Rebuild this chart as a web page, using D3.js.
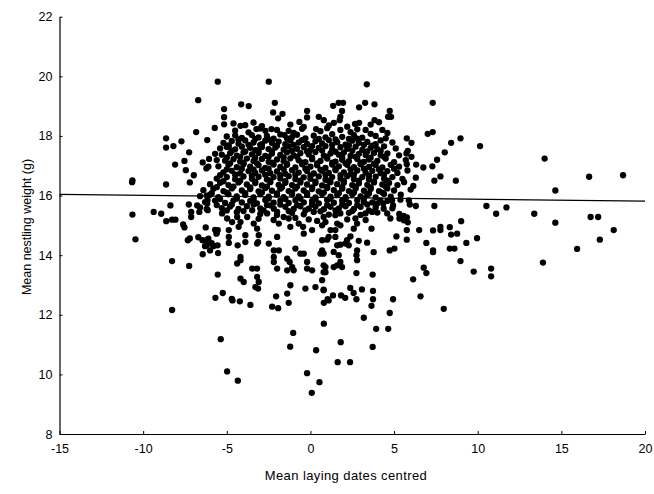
<!DOCTYPE html>
<html>
<head>
<meta charset="utf-8">
<script src="https://cdn.jsdelivr.net/npm/d3@7"></script>
<style>
  body { margin: 0; background: #fff; }
  svg text { font-family: Arial, "Liberation Sans", sans-serif; fill: #000; }
</style>
</head>
<body>
<div id="chart"></div>
<script>
// x = mean laying date (centred), y = mean nestling weight (g)
var xTicks = [-15, -10, -5, 0, 5, 10, 15, 20];
var yTicks = [8, 10, 12, 14, 16, 18, 20, 22];
var fitX = [-15, 20];
var fitY = [16.04, 15.81];

var outerPoints = [
  [-5.54,19.82],[-2.49,19.82],[-6.71,19.2],[-4.14,19.06],[-3.69,19.0],[-2.13,19.11],[-5.16,18.9],[-2.23,18.79],
  [-1.67,18.74],[-1.93,18.59],[-5.16,18.63],[-5.16,18.39],[-5.72,18.27],[-6.83,18.13],[-8.63,17.92],[-8.63,17.61],
  [-8.19,17.66],[-7.71,17.82],[-6.17,17.86],[-7.25,17.45],[-7.53,17.16],[-8.09,17.04],[-7.45,16.85],[-6.97,16.68],
  [-7.21,16.44],[-8.63,16.37],[-6.44,17.11],[-6.06,17.23],[-5.7,17.4],[-5.6,17.19],[-6.22,16.91],[-6.1,16.97],
  [-4.88,17.66],[-4.18,18.34],[-3.23,18.23],[-2.69,18.17],[-2.33,18.23],[-0.66,18.47],[-0.2,18.84],[-0.2,18.62],
  [0.5,18.64],[0.8,18.53],[0.34,18.23],[-0.4,18.3],[-1.3,18.17],[-1.55,18.03],
  [3.37,19.73],[1.36,19.01],[1.69,19.11],[1.95,19.11],[1.89,18.84],[1.79,18.64],[1.75,18.53],[2.91,18.96],
  [3.27,19.11],[3.83,19.06],[4.74,18.84],[4.64,18.64],[4.82,18.64],[3.83,18.53],[7.31,19.11],[2.67,18.4],
  [2.91,18.44],[1.79,18.2],[3.3,18.2],[7.01,18.07],[7.31,18.13],[5.76,17.92],[6.04,17.77],[8.41,17.77],
  [8.97,17.92],[10.14,17.66],[8.03,17.45],[7.57,17.2],[7.29,16.98],[6.75,16.94],[6.32,17.04],[5.82,17.5],
  [5.74,17.41],[5.3,17.35],[5.7,17.19],[6.04,17.3],[5.76,17.05],[7.41,16.5],[7.77,16.64],[8.69,16.5],
  [5.99,16.2],[6.15,16.32],[5.6,16.45],[6.3,16.6],
  [-10.64,16.51],[-10.66,16.45],[-10.64,15.36],[-10.46,14.53],
  [14.0,17.24],[16.66,16.63],[18.69,16.68],[14.64,16.17],[11.72,15.6],[13.38,15.39],[14.64,15.09],[16.75,15.28],
  [17.2,15.28],[18.13,14.84],[17.3,14.52],[15.94,14.21],[13.9,13.75],[10.52,15.65],[11.1,15.39],
  [7.41,15.65],[9.01,15.14],[8.33,14.94],[7.77,14.95],[7.77,14.84],[8.41,14.69],[8.77,14.72],[7.33,14.83],
  [6.5,14.84],[5.76,14.84],[5.76,14.52],[5.14,14.63],[9.32,14.41],[9.96,14.57],[6.93,14.41],[7.33,14.16],
  [7.33,14.1],[8.33,14.22],[8.61,14.22],[8.97,13.8],[5.02,14.22],[4.74,14.16],[5.31,15.38],[5.77,15.27],
  [5.57,15.32],[5.94,15.7],[6.3,15.65],[3.65,14.89],[3.78,14.1],[3.39,14.42],[6.77,13.58],[6.93,13.4],
  [9.76,13.45],[10.8,13.55],[10.8,13.29],[6.14,13.19],[3.72,13.35],[2.75,13.4],[4.94,12.52],[6.58,12.62],
  [7.97,12.2],[3.74,12.8],[3.74,12.52],[2.75,12.52],[3.08,12.85],[2.38,12.9],[2.58,12.73],[2.08,12.57],
  [1.83,12.65],[1.35,12.65],[1.03,12.52],
  [4.74,12.06],[3.19,11.9],[3.93,11.53],[4.65,11.53],[0.8,11.7],[1.81,11.08],[3.72,10.92],[1.63,10.41],
  [2.37,10.41],[3.65,12.3],[-8.27,12.16],[-5.36,11.18],[-4.98,10.1],[-4.34,9.79],[-1.03,11.39],[-1.21,10.93],
  [0.34,10.81],[-0.2,10.04],[0.54,9.74],[0.08,9.38],[0.8,12.4],[-3.59,12.33],[-2.29,12.27],[-1.93,12.22],
  [-1.3,12.4],[-4.66,12.48],[-4.22,12.45]
];

var leftPoints = [
  [-9.37,15.45],[-8.92,15.39],[-8.62,15.14],[-8.37,15.67],[-8.27,15.19],[-8.07,15.19],[-7.61,15.03],[-7.53,14.93],
  [-7.27,15.7],[-6.77,15.67],[-7.13,15.45],[-6.64,15.45],[-7.13,15.28],[-7.33,14.5],[-7.21,14.56],[-6.26,14.93],
  [-8.27,13.8],[-7.25,13.64],[-5.54,13.35],[-5.68,12.57],[-5.24,12.73],[-4.7,12.53],[-6.44,14.03],[-5.52,14.07],
  [-5.7,14.85],[-5.6,14.75],[-6.7,14.6],[-6.1,14.55],[-5.9,14.4],[-6.3,14.3],[-5.8,14.3],[-6.6,15.6],
  [-6.2,15.55],[-6.2,16.0],[-6.15,15.85]
];

var lowerCore = [
  [-6.17,15.73],[-6.14,15.51],[-5.28,15.40],[-4.98,15.23],[-4.68,15.11],[-4.38,15.28],[-4.18,15.11],[-4.29,14.95],
  [-3.78,15.28],[-3.48,15.51],[-3.39,15.06],[-3.19,14.89],[-3.09,14.67],[-3.13,14.44],[-3.19,14.39],[-3.89,14.67],
  [-3.89,14.44],[-4.35,14.33],[-4.88,14.84],[-4.88,14.61],[-4.88,14.41],[-5.54,14.84],[-5.62,14.72],[-6.2,14.5],
  [-6.45,14.5],[-6.2,14.33],[-5.55,14.33],[-6.0,14.16],[-4.18,13.94],[-4.38,13.72],[-4.18,13.83],
  [-3.48,13.55],[-3.19,13.55],[-4.18,13.21],[-3.99,13.10],[-3.19,13.27],[-3.09,13.10],[-3.29,12.93],[-3.13,12.88],
  [-2.59,15.40],[-2.39,15.67],[-2.19,15.56],[-1.99,15.45],[-1.89,15.06],[-1.60,15.28],[-1.30,15.23],[-1.20,14.95],
  [-1.99,14.61],[-2.49,14.39],[-2.19,14.16],[-2.19,13.94],[-2.19,13.77],[-1.89,14.16],[-1.39,13.88],[-1.24,13.77],
  [-1.09,13.60],[-1.39,13.49],[-1.00,13.49],[-1.99,13.55],[-1.20,12.99],[-1.39,12.71],[-2.05,12.62],[-0.90,14.22],
  [-0.60,14.05],[-0.40,14.05],[-0.30,12.88],[-0.20,13.77],[-0.20,13.55],[0.10,13.49],[0.30,12.93],[0.79,13.66],
  [0.90,13.43],[0.70,13.16],[0.79,12.82],[0.70,14.11],[0.60,14.05],[0.70,14.50],[0.10,14.84],[-0.40,14.72],
  [-0.44,14.95],[-0.70,15.06],[1.09,14.61],[1.20,14.84],[1.09,12.48],
  [1.79,15.40],[1.49,15.34],[0.79,15.28],[0.90,15.11],[0.70,15.00],[1.60,15.06],[1.79,15.00],[2.69,15.23],
  [2.79,15.06],[2.59,14.89],[1.49,14.84],[1.49,14.61],[2.39,14.63],[2.19,14.50],[1.00,14.52],[2.89,14.48],
  [1.60,14.33],[1.79,14.35],[2.09,14.39],[2.29,14.33],[2.79,14.16],[2.75,14.00],[2.79,13.83],[0.70,14.16],
  [0.79,14.05],[1.39,14.11],[1.69,14.00],[1.79,13.77],[1.60,13.66],[1.89,13.60],[1.39,13.60],[0.90,13.60],
  [0.79,13.43],[0.79,12.84],
  [4.35,15.73],[4.38,15.56],[4.59,15.40],[4.78,15.23],[3.19,15.78],[3.29,15.40],[3.69,15.45],[4.0,15.73],
  [4.18,15.84],[5.38,15.86],[5.88,15.84],[4.88,15.84],[4.94,15.67],[5.32,15.23],[5.58,15.17],[5.82,15.1]
];

var upperCore = [
  [-4.6,18.42],[-3.9,18.36],[-3.4,18.45],[-2.9,18.33],[-1.2,18.38],[1.1,18.35],[1.4,18.44],[2.2,18.31],[3.6,18.38],[4.1,18.46],
  [-4.5,18.18],[-3.7,18.12],[-3.0,18.25],[-2.0,18.2],[-1.0,18.1],[-0.5,18.24],[0.6,18.16],[1.0,18.26],[2.4,18.13],[2.8,18.22],[3.6,18.07],[4.3,18.2],[4.6,18.1],
  [-5.0,17.98],[-4.5,18.02],[-4.1,17.93],[-3.5,18.03],[-3.1,17.95],[-2.6,18.0],[-2.2,17.91],[-1.8,18.05],[-1.1,17.96],[-0.8,18.04],
  [-0.3,17.92],[0.2,18.01],[0.9,17.95],[1.3,18.06],[1.9,17.97],[2.3,17.9],[2.6,18.03],[3.1,17.94],[3.9,18.0],[4.5,17.92],
  [-5.2,17.77],[-4.7,17.83],[-4.3,17.74],[-3.9,17.85],[-3.4,17.78],[-3.0,17.7],[-2.7,17.84],[-2.3,17.76],[-1.9,17.81],[-1.5,17.72],
  [-1.2,17.85],[-0.7,17.78],[-0.2,17.73],[0.3,17.82],[0.7,17.75],[1.1,17.86],[1.6,17.79],[2.1,17.71],[2.5,17.84],[2.9,17.77],
  [3.4,17.8],[3.9,17.72],[4.2,17.85],[4.9,17.78],
  [-5.4,17.58],[-5.0,17.63],[-4.5,17.55],[-4.1,17.64],[-3.6,17.6],[-3.3,17.52],[-2.9,17.63],[-2.5,17.56],[-2.1,17.61],[-1.6,17.54],
  [-1.3,17.65],[-0.8,17.57],[-0.4,17.62],[0.0,17.53],[0.5,17.6],[0.9,17.66],[1.3,17.55],[1.8,17.62],[2.2,17.57],[2.7,17.64],
  [3.1,17.53],[3.6,17.6],[4.0,17.56],[4.4,17.65],[5.1,17.58],
  [-5.3,17.37],[-4.8,17.42],[-4.4,17.34],[-4.0,17.45],[-3.5,17.38],[-3.1,17.43],[-2.7,17.33],[-2.3,17.41],[-1.8,17.36],[-1.4,17.45],
  [-1.0,17.35],[-0.6,17.42],[-0.1,17.38],[0.3,17.46],[0.8,17.34],[1.2,17.41],[1.7,17.37],[2.0,17.44],[2.4,17.33],[2.9,17.4],
  [3.3,17.36],[3.8,17.43],[4.2,17.35],[4.6,17.41],
  [-5.1,17.17],[-4.6,17.22],[-4.2,17.14],[-3.8,17.24],[-3.4,17.16],[-2.9,17.23],[-2.5,17.13],[-2.0,17.21],[-1.6,17.15],[-1.2,17.25],
  [-0.7,17.18],[-0.3,17.12],[0.1,17.22],[0.6,17.16],[1.0,17.24],[1.5,17.14],[1.9,17.2],[2.3,17.15],[2.8,17.23],[3.2,17.13],
  [3.5,17.21],[4.0,17.16],[4.5,17.24],[5.0,17.12],
  [-5.5,16.98],[-4.9,17.03],[-4.4,16.95],[-4.0,17.05],[-3.6,16.97],[-3.1,17.02],[-2.7,16.93],[-2.2,17.04],[-1.8,16.96],[-1.4,17.03],
  [-0.9,16.94],[-0.5,17.05],[0.0,16.97],[0.4,17.02],[0.9,16.93],[1.3,17.04],[1.7,16.98],[2.2,17.03],[2.6,16.95],[3.0,17.05],
  [3.5,16.96],[3.9,17.02],[4.3,16.94],[4.8,17.03],[5.3,16.97],
  [-5.2,16.78],[-4.7,16.83],[-4.2,16.74],[-3.7,16.82],[-3.3,16.76],[-2.9,16.84],[-2.4,16.75],[-2.0,16.81],[-1.5,16.73],[-1.1,16.85],
  [-0.7,16.77],[-0.2,16.82],[0.2,16.74],[0.7,16.83],[1.1,16.76],[1.5,16.85],[2.0,16.78],[2.4,16.72],[2.8,16.84],[3.3,16.77],
  [3.7,16.83],[4.2,16.75],[4.6,16.82],[5.2,16.76],[5.8,16.84],
  [-5.6,16.57],[-5.0,16.62],[-4.5,16.55],[-4.0,16.64],[-3.5,16.56],[-3.1,16.63],[-2.6,16.54],[-2.2,16.62],[-1.8,16.57],[-1.3,16.65],
  [-0.9,16.55],[-0.4,16.61],[0.0,16.56],[0.5,16.64],[0.9,16.53],[1.3,16.62],[1.8,16.57],[2.2,16.65],[2.6,16.55],[3.1,16.62],
  [3.5,16.54],[3.9,16.63],[4.4,16.57],[4.9,16.62],[5.5,16.56],
  [-6.0,16.38],[-5.4,16.43],[-4.9,16.35],[-4.3,16.44],[-3.8,16.37],[-3.3,16.42],[-2.9,16.34],[-2.4,16.45],[-1.9,16.36],[-1.5,16.43],
  [-1.1,16.35],[-0.6,16.44],[-0.2,16.37],[0.3,16.42],[0.7,16.34],[1.2,16.45],[1.6,16.38],[2.0,16.43],[2.5,16.35],[2.9,16.41],
  [3.4,16.36],[3.8,16.44],[4.3,16.37],[4.7,16.42],[5.2,16.35],
  [-6.4,16.18],[-5.8,16.23],[-5.2,16.15],[-4.7,16.24],[-4.1,16.17],[-3.6,16.22],[-3.1,16.14],[-2.7,16.25],[-2.3,16.16],[-1.8,16.23],
  [-1.3,16.15],[-0.9,16.24],[-0.4,16.17],[0.1,16.22],[0.5,16.14],[1.0,16.25],[1.4,16.18],[1.9,16.23],[2.3,16.15],[2.7,16.24],
  [3.2,16.16],[3.6,16.22],[4.1,16.15],[4.6,16.24],[5.0,16.17],
  [-6.6,15.98],[-6.0,16.03],[-5.5,15.95],[-4.9,16.04],[-4.4,15.97],[-3.9,16.02],[-3.4,15.94],[-3.0,16.05],[-2.5,15.96],[-2.0,16.03],
  [-1.6,15.95],[-1.1,16.04],[-0.7,15.97],[-0.2,16.02],[0.3,15.94],[0.7,16.05],[1.2,15.96],[1.6,16.03],[2.1,15.95],[2.5,16.04],
  [3.0,15.97],[3.4,16.02],[3.9,15.94],[4.4,16.05],[4.8,15.96],[5.4,16.03],
  [-6.3,15.78],[-5.7,15.83],[-5.1,15.75],[-4.6,15.84],[-4.1,15.77],[-3.6,15.82],[-3.2,15.74],[-2.7,15.85],[-2.2,15.76],[-1.8,15.83],
  [-1.3,15.75],[-0.9,15.84],[-0.4,15.77],[0.1,15.82],[0.5,15.74],[1.0,15.85],[1.4,15.76],[1.9,15.83],[2.3,15.75],[2.8,15.84],
  [3.7,15.77],[4.6,15.82],
  [-5.3,15.58],[-4.8,15.63],[-4.3,15.55],[-3.8,15.64],[-3.0,15.57],[-1.5,15.62],[-1.0,15.55],[-0.6,15.64],[-0.1,15.56],[0.3,15.63],
  [0.8,15.54],[1.2,15.62],[1.7,15.57],[2.1,15.64],[2.6,15.55],[3.0,15.62],[3.9,15.6],[4.9,15.57],
  [-4.4,15.44],[-3.0,15.38],[-2.0,15.35],[-1.1,15.42],[-0.4,15.37],[0.2,15.45],[1.1,15.36],[2.3,15.42],[3.0,15.35],[4.0,15.43]
];

// extra points filling the gaps of the densest part of the cloud
var denseCore = [
  [-4.3,17.88],[-3.3,17.9],[-2.4,17.87],[-1.4,17.92],[-0.5,17.86],[0.5,17.9],[1.5,17.88],[2.8,17.91],
  [-4.9,17.68],[-3.7,17.7],[-2.9,17.72],[-2.0,17.67],[-1.0,17.7],[0.1,17.66],[1.3,17.7],[2.3,17.68],[3.2,17.7],[3.7,17.67],
  [-4.7,17.5],[-3.9,17.48],[-3.1,17.52],[-2.3,17.48],[-1.1,17.5],[-0.2,17.48],[0.7,17.51],[1.5,17.47],[2.5,17.5],[3.4,17.48],[4.2,17.5],
  [-5.0,17.28],[-4.2,17.3],[-3.3,17.27],[-2.5,17.3],[-1.6,17.28],[-0.8,17.3],[0.1,17.27],[1.0,17.3],[1.9,17.28],[2.7,17.3],[3.6,17.27],[4.4,17.3],
  [-4.8,17.08],[-4.0,17.1],[-3.2,17.08],[-2.3,17.1],[-1.4,17.07],[-0.5,17.1],[0.4,17.08],[1.3,17.1],[2.1,17.08],[3.0,17.1],[3.8,17.07],
  [-5.0,16.88],[-4.1,16.9],[-3.4,16.87],[-2.5,16.9],[-1.6,16.88],[-0.3,16.9],[0.6,16.87],[1.5,16.9],[2.4,16.88],[3.2,16.9],[4.1,16.87],[5.0,16.9],
  [-5.4,16.68],[-4.5,16.7],[-3.5,16.67],[-2.7,16.7],[-1.8,16.68],[-0.9,16.7],[0.0,16.67],[0.9,16.7],[1.8,16.68],[2.6,16.7],[3.5,16.67],[4.4,16.7],
  [-5.2,16.48],[-4.2,16.5],[-3.3,16.47],[-2.4,16.5],[-1.5,16.48],[-0.6,16.5],[0.3,16.47],[1.1,16.5],[2.0,16.48],[2.9,16.5],[3.8,16.47],[4.6,16.5],
  [-5.6,16.28],[-4.6,16.3],[-3.6,16.27],[-2.6,16.3],[-1.7,16.28],[-0.8,16.3],[0.1,16.27],[1.0,16.3],[1.9,16.28],[2.7,16.3],[3.6,16.27],[4.5,16.3],
  [-5.9,16.08],[-5.0,16.1],[-3.9,16.08],[-2.9,16.1],[-2.0,16.07],[-1.1,16.1],[-0.2,16.08],[0.8,16.1],[1.7,16.08],[2.6,16.1],[3.5,16.07],[4.3,16.1],
  [-5.4,15.88],[-4.4,15.9],[-3.4,15.87],[-2.5,15.9],[-1.5,15.88],[-0.6,15.9],[0.3,15.87],[1.2,15.9],[2.1,15.88],[3.2,15.9],
  [-5.6,15.68],[-4.7,15.7],[-3.4,15.7],[-2.6,15.68],[-1.8,15.7],[-0.8,15.68],[0.1,15.7],[1.0,15.68],[1.9,15.7],[2.8,15.68],[3.4,15.7],
  [-5.0,15.5],[-4.0,15.48],[-2.8,15.5],[-1.3,15.48],[-0.3,15.5],[0.6,15.47],[1.5,15.5],[2.5,15.48],[3.5,15.5],
  [-3.1,15.22],[-2.2,15.18],[-0.9,15.25],[-0.1,15.2],[0.4,15.15],[2.2,15.2],[3.3,15.18]
];

var allPoints = outerPoints.concat(leftPoints, lowerCore, upperCore, denseCore);

var margin = {top: 16.7, right: 9, bottom: 60, left: 59.5},
    width = 654 - margin.left - margin.right,
    height = 494 - margin.top - margin.bottom;

var svg = d3.select("#chart")
  .append("svg")
  .attr("width", 654)
  .attr("height", 494)
  .append("g")
  .attr("transform", "translate(" + margin.left + "," + margin.top + ")");

var x = d3.scaleLinear().domain([-15, 20]).range([0, width]);
var y = d3.scaleLinear().domain([8, 22]).range([height, 0]);

// points
svg.append("g")
  .selectAll("circle")
  .data(allPoints)
  .enter()
  .append("circle")
  .attr("cx", function(d){ return x(d[0]); })
  .attr("cy", function(d){ return y(d[1]); })
  .attr("r", 3.15)
  .attr("fill", "#000");

// fitted line
svg.append("path")
  .datum(d3.zip(fitX, fitY))
  .attr("d", d3.line().x(function(d){ return x(d[0]); }).y(function(d){ return y(d[1]); }))
  .attr("stroke", "#000")
  .attr("stroke-width", 1.3)
  .attr("fill", "none");

// axes
var xAxis = svg.append("g")
  .attr("transform", "translate(0," + height + ")")
  .call(d3.axisBottom(x).tickValues(xTicks).tickFormat(function(d){ return String(d); })
    .tickSizeInner(-3).tickSizeOuter(0).tickPadding(10));
var yAxis = svg.append("g")
  .call(d3.axisLeft(y).tickValues(yTicks).tickFormat(function(d){ return String(d); })
    .tickSizeInner(-3).tickSizeOuter(0).tickPadding(7));

[xAxis, yAxis].forEach(function(a){
  a.select(".domain").attr("stroke", "#000").attr("stroke-width", 1.2);
  a.selectAll(".tick line").attr("stroke", "#000");
  a.selectAll("text").style("font-size", "12.5px").attr("fill", "#000");
  a.attr("font-family", null);
});

svg.append("text")
  .attr("x", 346 - margin.left)
  .attr("y", 480 - margin.top)
  .style("text-anchor", "middle")
  .style("font-size", "13px")
  .style("letter-spacing", "0.4px")
  .text("Mean laying dates centred");

svg.append("text")
  .attr("transform", "rotate(-90)")
  .attr("x", -(227 - margin.top))
  .attr("y", 30.5 - margin.left)
  .style("text-anchor", "middle")
  .style("font-size", "12.5px")
  .text("Mean nestling weight (g)");
</script>
</body>
</html>
